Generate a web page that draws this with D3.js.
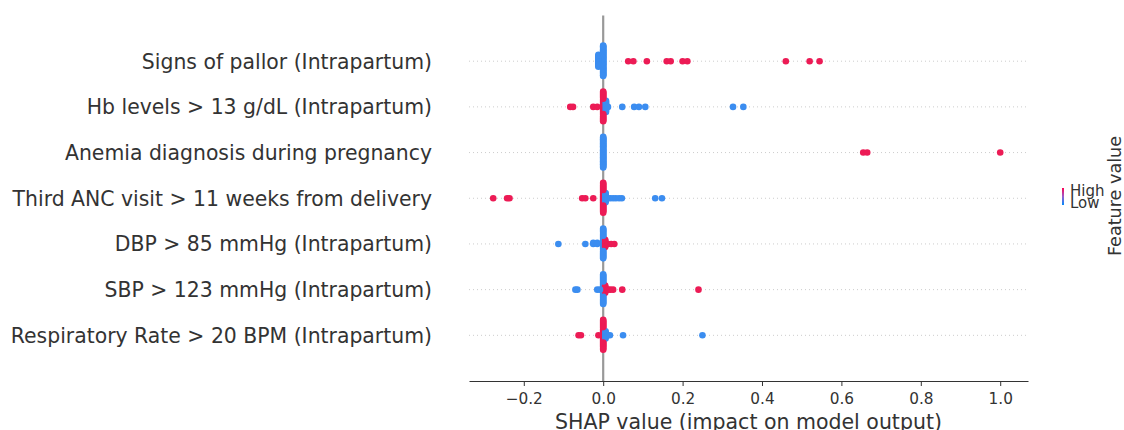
<!DOCTYPE html>
<html>
<head>
<meta charset="utf-8">
<script src="https://cdn.jsdelivr.net/npm/d3@7"></script>
<style>
  body { margin: 0; background: #fff; }
  text { font-family: "DejaVu Sans", sans-serif; fill: #333; }
</style>
</head>
<body>
<div id="chart"></div>
<script>
// features, top to bottom
var features = [
  "Signs of pallor (Intrapartum)",
  "Hb levels > 13 g/dL (Intrapartum)",
  "Anemia diagnosis during pregnancy",
  "Third ANC visit > 11 weeks from delivery",
  "DBP > 85 mmHg (Intrapartum)",
  "SBP > 123 mmHg (Intrapartum)",
  "Respiratory Rate > 20 BPM (Intrapartum)"
];

// [shap value, number of samples, feature value high(1)/low(0)]
var pallorPts = [
  [0.0, 14, 0], [-0.012, 16, 0], [0.0, 26, 0],
  [0.063, 1, 1], [0.076, 1, 1], [0.11, 1, 1], [0.16, 1, 1], [0.17, 1, 1],
  [0.2, 1, 1], [0.212, 1, 1], [0.46, 1, 1], [0.52, 1, 1], [0.545, 1, 1]
];
var hbPts = [
  [0.0, 14, 1], [0.007, 12, 0], [0.0, 16, 1], [0.012, 1, 0],
  [-0.083, 1, 1], [-0.076, 1, 1], [-0.025, 1, 1], [-0.015, 1, 1],
  [0.048, 1, 0], [0.078, 1, 0], [0.09, 1, 0], [0.106, 1, 0], [0.327, 1, 0], [0.353, 1, 0]
];
var anemiaPts = [
  [0.0, 40, 0], [0.655, 1, 1], [0.665, 1, 1], [1.0, 1, 1]
];
var ancPts = [
  [0.0, 14, 1], [0.006, 10, 0], [0.0, 16, 1],
  [-0.277, 1, 1], [-0.242, 1, 1], [-0.236, 1, 1], [-0.053, 1, 1], [-0.045, 1, 1], [-0.025, 1, 1],
  [0.012, 1, 0], [0.018, 1, 0], [0.025, 1, 0], [0.032, 1, 0], [0.04, 1, 0], [0.047, 1, 0],
  [0.131, 1, 0], [0.148, 1, 0]
];
var dbpPts = [
  [0.0, 14, 0], [0.005, 8, 1], [0.0, 16, 0],
  [-0.113, 1, 0], [-0.045, 1, 0], [-0.025, 2, 0], [-0.015, 2, 0],
  [0.012, 1, 1], [0.02, 1, 1], [0.028, 1, 1]
];
var sbpPts = [
  [0.0, 14, 0], [0.005, 8, 1], [0.0, 16, 0],
  [-0.07, 1, 0], [-0.065, 1, 0], [-0.015, 1, 0], [-0.008, 1, 0],
  [0.012, 1, 1], [0.018, 1, 1], [0.025, 1, 1], [0.048, 1, 1], [0.24, 1, 1]
];
var respPts = [
  [0.0, 14, 1], [0.006, 8, 0], [0.0, 16, 1],
  [-0.062, 1, 1], [-0.056, 1, 1], [-0.012, 1, 1],
  [0.012, 1, 0], [0.017, 1, 0], [0.05, 1, 0], [0.25, 1, 0]
];
var rows = [pallorPts, hbPts, anemiaPts, ancPts, dbpPts, sbpPts, respPts];

var xTicks = [-0.2, 0.0, 0.2, 0.4, 0.6, 0.8, 1.0];

var RED = "#ec1b55";
var BLUE = "#3b8df0";
var NBINS = 100;
var ROW_HEIGHT = 0.4;
var DOT_R = 3.3;

var W = 1124, H = 430;
var svg = d3.select("#chart").append("svg").attr("width", W).attr("height", H);

var x = d3.scaleLinear().domain([-0.338, 1.07]).range([469, 1028]);
var y = d3.scaleLinear().domain([-1, features.length]).range([381, 15.5]);

// expand groups and lay out like shap's beeswarm
function swarm(groups) {
  var pts = [];
  groups.forEach(function(g) {
    for (var k = 0; k < g[1]; ++k) pts.push({v: g[0], high: g[2]});
  });
  var lo = d3.min(pts, function(p) { return p.v; });
  var hi = d3.max(pts, function(p) { return p.v; });
  pts.forEach(function(p, i) {
    p.bin = Math.round(NBINS * (p.v - lo) / (hi - lo + 1e-8));
    p.i = i;
  });
  var order = pts.slice().sort(function(a, b) { return a.bin - b.bin || a.i - b.i; });
  var layer = 0, last = -1;
  order.forEach(function(p) {
    if (p.bin !== last) layer = 0;
    p.ys = Math.ceil(layer / 2) * ((layer % 2) * 2 - 1);
    layer++;
    last = p.bin;
  });
  var m = d3.max(pts, function(p) { return p.ys + 1; });
  pts.forEach(function(p) { p.ys *= 0.9 * ROW_HEIGHT / m; });
  return pts;
}

// dotted row guides
svg.append("g").selectAll("line").data(features).enter().append("line")
  .attr("x1", x.range()[0]).attr("x2", x.range()[1])
  .attr("y1", function(d, i) { return y(features.length - 1 - i); })
  .attr("y2", function(d, i) { return y(features.length - 1 - i); })
  .attr("stroke", "#cccccc").attr("stroke-width", 1).attr("stroke-dasharray", "1,3");

// zero line
svg.append("line")
  .attr("x1", x(0)).attr("x2", x(0))
  .attr("y1", y(features.length)).attr("y2", y(-1))
  .attr("stroke", "#999999").attr("stroke-width", 2.2);

rows.forEach(function(groups, i) {
  var pos = features.length - 1 - i;
  var pts = swarm(groups);
  svg.append("g").selectAll("circle").data(pts).enter().append("circle")
    .attr("cx", function(p) { return x(p.v); })
    .attr("cy", function(p) { return y(pos + p.ys); })
    .attr("r", DOT_R)
    .attr("fill", function(p) { return p.high ? RED : BLUE; });
});

// feature labels
svg.append("g").selectAll("text").data(features).enter().append("text")
  .attr("x", 432)
  .attr("y", function(d, i) { return y(features.length - 1 - i); })
  .attr("dy", "0.36em")
  .attr("text-anchor", "end")
  .style("font-size", "20.4px")
  .text(function(d) { return d; });

// x axis
var axis = svg.append("g")
  .attr("transform", "translate(0," + y(-1) + ")")
  .call(d3.axisBottom(x).tickValues(xTicks).tickFormat(d3.format(".1f")).tickSize(5).tickSizeOuter(0));
axis.select(".domain").attr("stroke", "#333").attr("stroke-width", 1.2);
axis.selectAll(".tick line").attr("stroke", "#333");
axis.selectAll(".tick text").style("font-size", "15.3px").style("fill", "#333")
  .style("font-family", "DejaVu Sans").attr("y", 8).attr("dy", "1em");

svg.append("text")
  .attr("x", (x.range()[0] + x.range()[1]) / 2).attr("y", 429)
  .attr("text-anchor", "middle")
  .style("font-size", "20.5px")
  .text("SHAP value (impact on model output)");

// colour bar legend
var defs = svg.append("defs");
var grad = defs.append("linearGradient").attr("id", "cb")
  .attr("x1", 0).attr("y1", 1).attr("x2", 0).attr("y2", 0);
grad.append("stop").attr("offset", "0%").attr("stop-color", "#008bfb");
grad.append("stop").attr("offset", "50%").attr("stop-color", "#9a5ccc");
grad.append("stop").attr("offset", "100%").attr("stop-color", "#ff0052");
svg.append("rect").attr("x", 1062).attr("y", 188).attr("width", 2).attr("height", 17)
  .attr("fill", "url(#cb)");
svg.append("text").attr("x", 1070).attr("y", 196)
  .style("font-size", "15px").text("High");
svg.append("text").attr("x", 1070).attr("y", 208)
  .style("font-size", "15px").text("Low");
svg.append("text")
  .attr("transform", "translate(1121,196) rotate(-90)")
  .attr("text-anchor", "middle")
  .style("font-size", "17.6px")
  .text("Feature value");
</script>
</body>
</html>
